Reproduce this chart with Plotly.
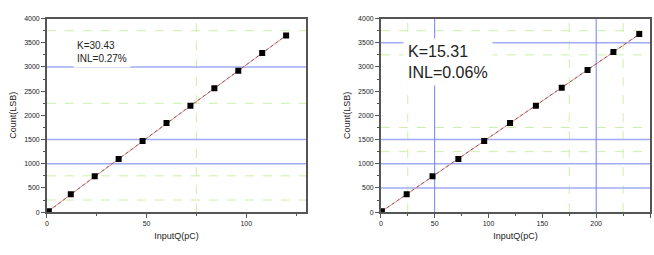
import plotly.graph_objects as go

# ---- data ----
left_q = [1, 12, 24, 36, 48, 60, 72, 84, 96, 108, 120]
left_count = [20, 370, 740, 1100, 1470, 1840, 2200, 2560, 2920, 3290, 3650]
left_k = 30.43
right_q = [1, 24, 48, 72, 96, 120, 144, 168, 192, 216, 240]
right_count = [20, 370, 740, 1100, 1470, 1840, 2200, 2570, 2940, 3310, 3680]
right_k = 15.31
left_label = "K=30.43<br>INL=0.27%"
right_label = "K=15.31<br>INL=0.06%"

# grid positions
left_blue_y = [1000, 1500, 3000]
left_green_y = [250, 750, 2250, 3750]
left_green_x = [75]
right_blue_y = [500, 1000, 1500, 3500]
right_blue_x = [50, 200]
right_green_y = [1250, 1750, 3250, 3750]
right_green_x = [25, 175, 225]

W, H = 654, 255
fig = go.Figure()

def add_panel(q, c, k, xa, ya):
    xmax = q[-1]
    fig.add_trace(go.Scatter(x=[0, xmax], y=[0, k * xmax], mode="lines",
                             line=dict(color="#f08a8a", width=1),
                             xaxis=xa, yaxis=ya, showlegend=False, hoverinfo="skip"))
    fig.add_trace(go.Scatter(x=q, y=c, mode="lines",
                             line=dict(color="#444444", width=0.7, dash="dot"),
                             xaxis=xa, yaxis=ya, showlegend=False, hoverinfo="skip"))
    fig.add_trace(go.Scatter(x=q, y=c, mode="markers",
                             marker=dict(symbol="square", size=6, color="black"),
                             xaxis=xa, yaxis=ya, showlegend=False))

add_panel(left_q, left_count, left_k, "x", "y")
add_panel(right_q, right_count, right_k, "x2", "y2")

shapes = []
def hline(v, xr, yr, color, width, dash):
    shapes.append(dict(type="line", xref=xr + " domain", yref=yr, x0=0, x1=1, y0=v, y1=v,
                       line=dict(color=color, width=width, dash=dash), layer="below"))
def vline(v, xr, yr, color, width, dash):
    shapes.append(dict(type="line", xref=xr, yref=yr + " domain", x0=v, x1=v, y0=0, y1=1,
                       line=dict(color=color, width=width, dash=dash), layer="below"))

green = "#cdf0a8"
blue = "#a0acf2"
for v in left_green_y: hline(v, "x", "y", green, 1, "dash")
for v in left_green_x: vline(v, "x", "y", green, 1, "dash")
for v in left_blue_y: hline(v, "x", "y", blue, 1.5, "solid")
for v in right_green_y: hline(v, "x2", "y2", green, 1, "dash")
for v in right_green_x: vline(v, "x2", "y2", green, 1, "dash")
for v in right_blue_y: hline(v, "x2", "y2", blue, 1.5, "solid")
for v in right_blue_x: vline(v, "x2", "y2", "#7080f0", 1, "solid")

ydom = [(H - 214) / H, (H - 15) / H]
axis_common = dict(showline=True, linecolor="#555555", linewidth=1.5, mirror=True,
                   ticks="outside", ticklen=4, tickcolor="#555555", tickwidth=1,
                   showgrid=False, zeroline=False,
                   tickfont=dict(family="Liberation Sans, Arial", size=7, color="#222"))
title_font = dict(family="Liberation Sans, Arial", size=9, color="#222")

fig.update_layout(
    width=W, height=H, margin=dict(l=0, r=0, t=0, b=0),
    paper_bgcolor="white", plot_bgcolor="white",
    shapes=shapes,
    xaxis=dict(domain=[45 / W, 305 / W], range=[0, 130], dtick=50, tick0=0,
               minor=dict(dtick=25, ticklen=2, ticks="outside", tickcolor="#555555"),
               title=dict(text="InputQ(pC)", font=title_font, standoff=6), anchor="y", **axis_common),
    yaxis=dict(domain=ydom, range=[0, 4000], dtick=500, tick0=0,
               minor=dict(dtick=250, ticklen=2, ticks="outside", tickcolor="#555555"),
               title=dict(text="Count(LSB)", font=title_font, standoff=6), anchor="x", **axis_common),
    xaxis2=dict(domain=[380 / W, 650 / W], range=[0, 250], dtick=50, tick0=0,
                minor=dict(dtick=25, ticklen=2, ticks="outside", tickcolor="#555555"),
                title=dict(text="InputQ(pC)", font=title_font, standoff=6), anchor="y2", **axis_common),
    yaxis2=dict(domain=ydom, range=[0, 4000], dtick=500, tick0=0,
                minor=dict(dtick=250, ticklen=2, ticks="outside", tickcolor="#555555"),
                title=dict(text="Count(LSB)", font=title_font, standoff=6), anchor="x2", **axis_common),
    annotations=[
        dict(text=left_label, xref="x", yref="y", x=13, y=3300, xanchor="left", yanchor="middle",
             showarrow=False, align="left", bgcolor="white", borderpad=3,
             font=dict(family="Liberation Sans, Arial", size=10, color="#222")),
        dict(text=right_label, xref="x2", yref="y2", x=21, y=3100, xanchor="left", yanchor="middle",
             showarrow=False, align="left", bgcolor="white", borderpad=4,
             font=dict(family="Liberation Sans, Arial", size=16, color="#222")),
    ],
)

fig.write_html("out.html", config={"displayModeBar": False},
               post_script="document.body.style.margin='0';document.body.style.overflow='hidden';")
